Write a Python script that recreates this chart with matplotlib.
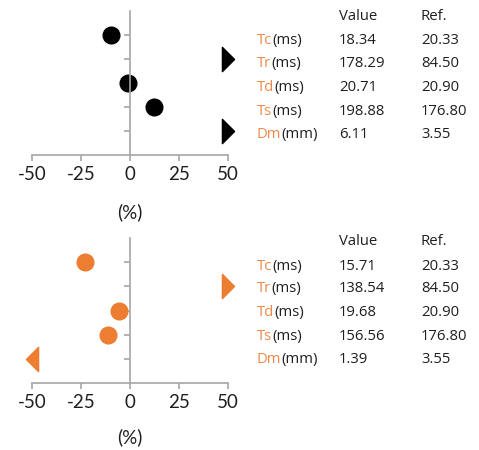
import numpy as np
import matplotlib.pyplot as plt
from matplotlib.path import Path

# parameters shown in the tables
params = ['Tc', 'Tr', 'Td', 'Ts', 'Dm']
units = ['(ms)', '(ms)', '(ms)', '(ms)', '(mm)']
ref = [20.33, 84.50, 20.90, 176.80, 3.55]
ref_txt = ['20.33', '84.50', '20.90', '176.80', '3.55']

value_top = [18.34, 178.29, 20.71, 198.88, 6.11]
value_top_txt = ['18.34', '178.29', '20.71', '198.88', '6.11']
value_bot = [15.71, 138.54, 19.68, 156.56, 1.39]
value_bot_txt = ['15.71', '138.54', '19.68', '156.56', '1.39']

xticks = [-50, -25, 0, 25, 50]

ORANGE = '#ED7D31'
ORANGE_TXT = '#F0884A'
GREY = '#A6A6A6'
TXT = '#1F1F1F'

W, H = 479, 450
fig = plt.figure(figsize=(W / 100, H / 100), dpi=100)

right_tri = Path([(-0.5, -1), (0.5, 0), (-0.5, 1), (-0.5, -1)],
                 [Path.MOVETO, Path.LINETO, Path.LINETO, Path.CLOSEPOLY])
left_tri = Path([(0.5, -1), (-0.5, 0), (0.5, 1), (0.5, -1)],
                [Path.MOVETO, Path.LINETO, Path.LINETO, Path.CLOSEPOLY])


def panel(rect, values, color):
    ax = fig.add_axes(rect)
    pct = (np.array(values) - np.array(ref)) / np.array(ref) * 100
    rows = np.arange(1, len(params) + 1)
    for r, p in zip(rows, pct):
        if p > 50:
            ax.plot(50, r, marker=right_tri, ms=17.5, color=color, clip_on=False, ls='none')
        elif p < -50:
            ax.plot(-50, r, marker=left_tri, ms=17.5, color=color, clip_on=False, ls='none')
        else:
            ax.plot(p, r, marker='o', ms=12, color=color, clip_on=False, ls='none')
    ax.set_xlim(-50, 50)
    ax.set_ylim(6, 0)
    ax.spines['top'].set_visible(False)
    ax.spines['right'].set_visible(False)
    ax.spines['left'].set_position(('data', 0))
    for s in ['left', 'bottom']:
        ax.spines[s].set_color(GREY)
        ax.spines[s].set_linewidth(1.2)
    ax.set_yticks(rows)
    ax.set_yticklabels([])
    ax.tick_params(axis='y', length=4, color=GREY, width=1.2, direction='out')
    ax.set_xticks(xticks)
    ax.set_xticklabels([str(t) for t in xticks], fontfamily='Lato', fontsize=13.5, color=TXT)
    ax.tick_params(axis='x', length=4, color=GREY, width=1.2, pad=4)
    ax.patch.set_alpha(0)
    return ax


def fy(y):
    return 1 - y / H


def fx(x):
    return x / W


renderer = fig.canvas.get_renderer()


def table(header_y, row_ys, values_txt):
    kw = dict(fontfamily='Open Sans', fontsize=10.7, va='baseline', ha='left')
    fig.text(fx(339), fy(header_y + 5), 'Value', color=TXT, **kw)
    fig.text(fx(421), fy(header_y + 5), 'Ref.', color=TXT, **kw)
    for y, p, u, v, r in zip(row_ys, params, units, values_txt, ref_txt):
        t = fig.text(fx(257), fy(y + 5), p, color=ORANGE_TXT, **kw)
        x1 = t.get_window_extent(renderer).x1
        fig.text(x1 / W, fy(y + 5), u, color=TXT, **kw)
        fig.text(fx(339), fy(y + 5), v, color=TXT, **kw)
        fig.text(fx(421), fy(y + 5), r, color=TXT, **kw)


ax1 = panel([32 / W, 1 - 155 / H, 196 / W, 144 / H], value_top, 'black')
ax2 = panel([32 / W, 1 - 383 / H, 196 / W, 145 / H], value_bot, ORANGE)

fig.text(fx(130), fy(212), '(%)', fontfamily='Lato', fontsize=13.5, color=TXT, ha='center', va='center')
fig.text(fx(130), fy(437), '(%)', fontfamily='Lato', fontsize=13.5, color=TXT, ha='center', va='center')

table(15, [39, 62, 86, 110, 133], value_top_txt)
table(240, [265, 287, 311, 335, 358], value_bot_txt)

fig.savefig('out.png', dpi=100)
